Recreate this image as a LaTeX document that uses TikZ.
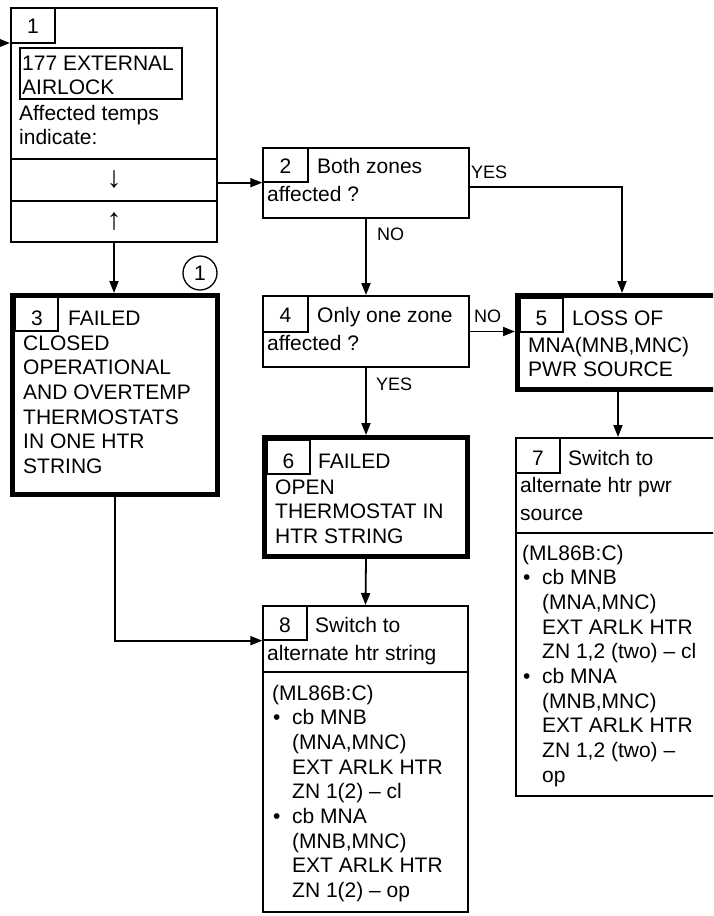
\documentclass[tikz,border=0pt]{standalone}
\usepackage{fontspec}
\setmainfont{Liberation Sans}
\usetikzlibrary{arrows.meta}
\newcommand\bodyfont{\fontsize{21}{24.7}\selectfont}
\newcommand\labfont{\fontsize{18}{20}\selectfont}
\newcommand\tlines[4]{\foreach \lx [count=\i] in {#4} {\node[txt] (#1\i) at (#2,{#3+24.7*(\i-1)}) {\lx};}}
\tikzset{
 box/.style={draw, line width=2pt, inner sep=0pt},
 thickbox/.style={draw, line width=5pt, inner sep=0pt},
 numbox/.style={draw, line width=1.3pt, inner sep=0pt},
 digit/.style={anchor=base, inner sep=0pt, font=\bodyfont},
 txt/.style={anchor=base west, inner sep=0pt, font=\bodyfont},
 lab/.style={anchor=base west, inner sep=0pt, font=\labfont},
 arr/.style={line width=1.8pt, -{Triangle[length=12pt,width=9pt]}},
 divider/.style={line width=2pt},
}
\begin{document}
\begin{tikzpicture}[x=1pt,y=-1pt]
\useasboundingbox (0,0) rectangle (713,916);
\clip (0,0) rectangle (713,916);
\fill[white] (0,0) rectangle (713,916);

% main boxes
\node[box, minimum width=206pt, minimum height=234pt] (b1) at (114,125) {};
\node[box, minimum width=206pt, minimum height=70pt] (b2) at (366,183) {};
\node[thickbox, minimum width=205pt, minimum height=199pt] (b3) at (115,395) {};
\node[box, minimum width=206pt, minimum height=71pt] (b4) at (366,331.5) {};
\node[thickbox, minimum width=209pt, minimum height=94pt] (b5) at (622,342.5) {};
\node[thickbox, minimum width=203pt, minimum height=119pt] (b6) at (366,497) {};
\node[box, minimum width=204pt, minimum height=358pt] (b7) at (618,617) {};
\node[box, minimum width=205pt, minimum height=306pt] (b8) at (365.5,759) {};

% number boxes
\node[numbox, minimum width=44pt, minimum height=35pt] (n1) at (33,25.5) {};
\node[numbox, minimum width=45pt, minimum height=34pt] (n2) at (285.5,165) {};
\node[numbox, minimum width=43pt, minimum height=34pt] (n3) at (36.5,314) {};
\node[numbox, minimum width=45pt, minimum height=36pt] (n4) at (285.5,314) {};
\node[numbox, minimum width=43pt, minimum height=34pt] (n5) at (541.5,315) {};
\node[numbox, minimum width=43pt, minimum height=34pt] (n6) at (288.5,457) {};
\node[numbox, minimum width=44pt, minimum height=35pt] (n7) at (538,455.5) {};
\node[numbox, minimum width=44pt, minimum height=34pt] (n8) at (285,623) {};
\node[digit] (d1) at (33,33) {1};
\node[digit] (d2) at (285.5,173) {2};
\node[digit] (d3) at (37,325) {3};
\node[digit] (d4) at (285.5,322) {4};
\node[digit] (d5) at (541.5,325) {5};
\node[digit] (d6) at (288.5,468) {6};
\node[digit] (d7) at (538,465) {7};
\node[digit] (d8) at (285,632) {8};

% box 1 content
\node[box, minimum width=162pt, minimum height=51pt] (ab) at (101,73.5) {};
\tlines{ta}{22}{70}{177 EXTERNAL, AIRLOCK}
\tlines{tb}{19}{120}{Affected temps, indicate:}
\draw[divider] (b1.west |- 0,159) -- (b1.east |- 0,159);
\draw[divider] (b1.west |- 0,201) -- (b1.east |- 0,201);
\node[font=\fontsize{30}{30}\selectfont, inner sep=0pt] (dn) at (114,180) {↓};
\node[font=\fontsize{30}{30}\selectfont, inner sep=0pt] (up) at (114,222) {↑};

% box 2
\node[txt] (t2a) at (317,173) {Both zones};
\node[txt] (t2b) at (267,201) {affected ?};

% box 3
\node[txt] (t3a) at (68,325) {FAILED};
\tlines{t3}{23}{350}{CLOSED, OPERATIONAL, AND OVERTEMP, THERMOSTATS, IN ONE HTR, STRING}

% box 4
\node[txt] (t4a) at (317,322) {Only one zone};
\node[txt] (t4b) at (267,350) {affected ?};

% box 5
\node[txt] (t5a) at (572,325) {LOSS OF};
\tlines{t5}{528}{352}{{MNA(MNB,MNC)}, PWR SOURCE}

% box 6
\node[txt] (t6a) at (318,468) {FAILED};
\tlines{t6}{275}{494}{OPEN, THERMOSTAT IN, HTR STRING}

% box 7
\node[txt] (t7a) at (568,465) {Switch to};
\node[txt] (t7b) at (520,492) {alternate htr pwr};
\node[txt] (t7c) at (520,520) {source};
\draw[divider] (b7.west |- 0,533) -- (b7.east |- 0,533);
\node[txt] (t7d) at (522,560) {(ML86B:C)};
\tlines{t7l}{542}{584.7}{cb MNB, {(MNA,MNC)}, EXT ARLK HTR, {ZN 1,2 (two) – cl}, cb MNA, {(MNB,MNC)}, EXT ARLK HTR, {ZN 1,2 (two) –}, op}
\node[txt] (bu7a) at (523,584.7) {\textbullet};
\node[txt] (bu7b) at (523,683.5) {\textbullet};

% box 8
\node[txt] (t8a) at (315,632) {Switch to};
\node[txt] (t8b) at (267,660) {alternate htr string};
\draw[divider] (b8.west |- 0,672) -- (b8.east |- 0,672);
\node[txt] (t8d) at (272,700) {(ML86B:C)};
\tlines{t8l}{292}{724.7}{cb MNB, {(MNA,MNC)}, EXT ARLK HTR, {ZN 1(2) – cl}, cb MNA, {(MNB,MNC)}, EXT ARLK HTR, {ZN 1(2) – op}}
\node[txt] (bu8a) at (273,724.7) {\textbullet};
\node[txt] (bu8b) at (273,823.5) {\textbullet};

% circle marker
\node[circle, draw, line width=1.3pt, minimum size=34pt, inner sep=0pt] (c1) at (200,273) {};
\node[digit] (c1t) at (200,280.5) {1};

% connectors
\coordinate (in1) at (-20,43);
\draw[arr] (in1) -- (in1 -| b1.west);
\draw[arr] (b1.east |- n2.south) -- (n2.south west);
\draw[arr] (b2.east |- 0,187) -| (b5.north);
\draw[arr] (b2.south) -- (b4.north);
\draw[arr] (b4.east) -- (b4.east -| b5.west);
\draw[arr] (b4.south) -- (b6.north);
\draw[arr] (b6.south) -- (b8.north);
\draw[arr] (b5.south -| b7.north) -- (b7.north);
\draw[arr] (b1.south) -- (b1.south |- b3.north);
\draw[arr] (b3.south) |- (n8.south west);

% labels
\node[lab] (yes2) at (471,178) {YES};
\node[lab] (no2) at (377,240) {NO};
\node[lab] (no4) at (474,322) {NO};
\node[lab] (yes4) at (376,390) {YES};
\end{tikzpicture}
\end{document}
